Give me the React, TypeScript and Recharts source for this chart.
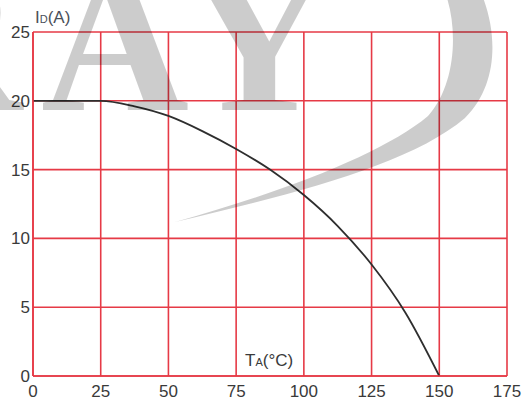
import { CartesianGrid, Line, LineChart, XAxis, YAxis } from "recharts"

// ambient temperature (°C) vs. max continuous drain current (A)
const tempC = [0, 25, 37.5, 50, 62.5, 75, 87.5, 100, 112.5, 125, 137.5, 150]
const drainA = [20, 20, 19.6, 18.9, 17.8, 16.5, 15, 13.15, 10.9, 8.1, 4.6, 0]

const xTicks = [0, 25, 50, 75, 100, 125, 150, 175]
const yTicks = [0, 5, 10, 15, 20, 25]

const data = tempC.map((t, i) => ({ t, id: drainA[i] }))

const RED = "#e63a46"
const FONT = "'Liberation Sans', Arial, sans-serif"

const tickStyle = { fill: "#3a3a3a", fontSize: 17, fontFamily: FONT }

function YTitle(props: any) {
  const { x, y } = props.viewBox
  return (
    <text x={x + 35} y={y - 9} fill="#4b5059" fontFamily={FONT} fontSize={17}>
      I<tspan fontSize={11}>D</tspan>(A)
    </text>
  )
}

function XTitle(props: any) {
  const { x, y } = props.viewBox
  return (
    <text x={x + 212} y={y - 10} fill="#3a3a3a" fontFamily={FONT} fontSize={17}>
      T<tspan fontSize={11}>A</tspan>(°C)
    </text>
  )
}

// faint logo printed across the sheet
function Watermark() {
  const serif = "'Liberation Serif', 'Times New Roman', serif"
  return (
    <svg
      width={525}
      height={406}
      style={{ position: "absolute", left: 0, top: 0, pointerEvents: "none" }}
    >
      <g fill="#000" fillOpacity={0.2}>
        <text x={22} y={110} textAnchor="end" fontFamily={serif} fontWeight="bold" fontSize={205}>
          R
        </text>
        <text x={115} y={110} textAnchor="middle" fontFamily={serif} fontWeight="bold" fontSize={205}>
          A
        </text>
        <text x={258} y={110} textAnchor="middle" fontFamily={serif} fontWeight="bold" fontSize={205}>
          Y
        </text>
        <path d="M 175 222 C 290 195, 410 165, 465 118 C 498 85, 498 35, 482 -5 L 446 -5 C 458 30, 456 85, 428 116 C 385 152, 290 190, 175 222 Z" />
      </g>
    </svg>
  )
}

export default function App() {
  return (
    <div style={{ position: "absolute", left: 0, top: 0, width: 525, height: 406, background: "#fff" }}>
      <LineChart width={525} height={406} data={data} margin={{ top: 32, right: 18, bottom: 0, left: 0 }}>
        <CartesianGrid stroke={RED} strokeWidth={1.6} />
        <XAxis
          dataKey="t"
          type="number"
          domain={[0, 175]}
          ticks={xTicks}
          height={30}
          tickLine={false}
          tickSize={0}
          tickMargin={9}
          axisLine={{ stroke: RED, strokeWidth: 1.6 }}
          tick={tickStyle}
          label={XTitle}
        />
        <YAxis
          type="number"
          domain={[0, 25]}
          ticks={yTicks}
          width={33}
          tickLine={false}
          tickSize={0}
          tickMargin={3}
          axisLine={{ stroke: RED, strokeWidth: 1.6 }}
          tick={tickStyle}
          label={YTitle}
        />
        <Line
          type="monotone"
          dataKey="id"
          stroke="#2e2e2e"
          strokeWidth={1.8}
          dot={false}
          isAnimationActive={false}
        />
      </LineChart>
      <Watermark />
    </div>
  )
}
